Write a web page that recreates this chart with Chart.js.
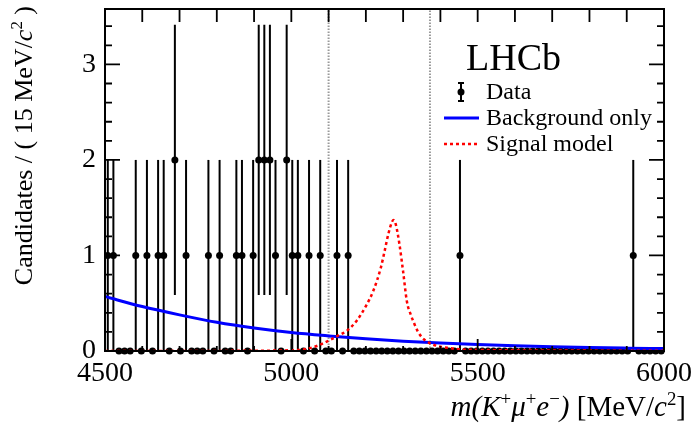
<!DOCTYPE html>
<html>
<head>
<meta charset="utf-8">
<script src="https://cdn.jsdelivr.net/npm/chart.js@4.4.1/dist/chart.umd.min.js"></script>
<style>
  body { margin: 0; background: #fff; }
  #wrap { width: 695px; height: 423px; }
</style>
</head>
<body>
<div id="wrap"><canvas id="chart" width="695" height="423"></canvas></div>
<script>
// binned data: 100 bins of 15 MeV from 4500 to 6000
const binLow = 4500;
const binWidth = 15;
const counts = [
    1, 1, 0, 0, 0, 1, 0, 1, 0, 1,
    1, 0, 2, 0, 1, 0, 0, 0, 1, 0,
    1, 0, 0, 1, 1, 0, 1, 2, 2, 2,
    1, 0, 2, 1, 1, 0, 1, 0, 1, 0,
    0, 1, 0, 1, 0, 0, 0, 0, 0, 0,
    0, 0, 0, 0, 0, 0, 0, 0, 0, 0,
    0, 0, 0, 1, 0, 0, 0, 0, 0, 0,
    0, 0, 0, 0, 0, 0, 0, 0, 0, 0,
    0, 0, 0, 0, 0, 0, 0, 0, 0, 0,
    0, 0, 0, 0, 1, 0, 0, 0, 0, 0
];

// background-only fit curve
const bkgMass  = [4500, 4600, 4700, 4800, 4900, 5000, 5100, 5200, 5300, 5400, 5500, 5600, 5700, 5800, 5900, 6000];
const bkgValue = [0.57, 0.465, 0.378, 0.30, 0.24, 0.193, 0.158, 0.128, 0.103, 0.083, 0.067, 0.054, 0.044, 0.036, 0.030, 0.025];

// signal model curve
const sigMass  = [4500, 4800, 4950, 5000, 5025, 5050, 5075, 5100, 5125, 5150, 5175, 5200, 5220, 5240, 5250, 5260, 5270, 5275, 5280, 5290, 5300, 5310, 5320, 5330, 5340, 5350, 5360, 5375, 5400, 5425, 5450, 5500, 5600, 5800, 6000];
const sigValue = [0.0, 0.001, 0.004, 0.008, 0.012, 0.03, 0.062, 0.108, 0.16, 0.215, 0.315, 0.47, 0.63, 0.87, 1.04, 1.22, 1.35, 1.37, 1.33, 1.12, 0.83, 0.52, 0.385, 0.285, 0.2, 0.145, 0.11, 0.075, 0.045, 0.03, 0.018, 0.012, 0.007, 0.004, 0.003];

// signal window edges
const windowEdges = [5100, 5372];

const xTickValues = [4500, 5000, 5500, 6000];
const yTickValues = [0, 1, 2, 3];
const xRange = [4500, 6000];
const yRange = [0, 3.58];

const serif = "'Liberation Serif', 'Times New Roman', serif";

const dataPoints = counts.map((n, i) => ({ x: binLow + binWidth * (i + 0.5), y: n }));

// text made of styled pieces (italic, superscript)
function richWidth(ctx, parts, size) {
    let w = 0;
    parts.forEach(p => {
        const s = p.sup ? size * 0.65 : size;
        ctx.font = (p.italic ? 'italic ' : '') + s + 'px ' + serif;
        w += ctx.measureText(p.t).width;
    });
    return w;
}
function drawRich(ctx, parts, x, y, size) {
    let cx = x;
    parts.forEach(p => {
        const s = p.sup ? size * 0.65 : size;
        ctx.font = (p.italic ? 'italic ' : '') + s + 'px ' + serif;
        ctx.fillText(p.t, cx, p.sup ? y - size * 0.38 : y);
        cx += ctx.measureText(p.t).width;
    });
}

const xTitle = [
    { t: 'm(K', italic: true }, { t: '+', sup: true }, { t: 'μ', italic: true }, { t: '+', sup: true },
    { t: 'e', italic: true }, { t: '−', sup: true }, { t: ')', italic: true }, { t: ' [MeV/' },
    { t: 'c', italic: true }, { t: '2', sup: true }, { t: ']' }
];
const yTitle = [
    { t: 'Candidates / ( 15 MeV/' }, { t: 'c', italic: true }, { t: '2', sup: true }, { t: ' )' }
];

const framePlugin = {
    id: 'frame',
    beforeDatasetDraw(chart, args) {
        if (args.index !== 3) return;
        // error bars for the data points
        const ctx = chart.ctx;
        const xs = chart.scales.x, ys = chart.scales.y;
        ctx.save();
        ctx.strokeStyle = '#000';
        ctx.lineWidth = 2;
        dataPoints.forEach(p => {
            if (p.y <= 0) return;
            const e = Math.sqrt(p.y);
            const px = xs.getPixelForValue(p.x);
            ctx.beginPath();
            ctx.moveTo(px, ys.getPixelForValue(Math.max(0, p.y - e)));
            ctx.lineTo(px, ys.getPixelForValue(p.y + e));
            ctx.stroke();
        });
        ctx.restore();
    },
    afterDraw(chart) {
        const ctx = chart.ctx;
        const a = chart.chartArea;
        const xs = chart.scales.x, ys = chart.scales.y;
        ctx.save();
        ctx.strokeStyle = '#000';
        ctx.lineWidth = 2;
        ctx.strokeRect(a.left, a.top, a.right - a.left, a.bottom - a.top);

        // x ticks
        ctx.lineWidth = 1.8;
        ctx.beginPath();
        for (let v = xRange[0]; v <= xRange[1]; v += 100) {
            const px = xs.getPixelForValue(v);
            const major = v % 500 === 0;
            ctx.moveTo(px, a.bottom);
            ctx.lineTo(px, a.bottom - (major ? 12 : 5));
            ctx.moveTo(px, a.top);
            ctx.lineTo(px, a.top + 13);
        }
        // y ticks
        for (let k = 0; k <= 17; k++) {
            const v = k * 0.2;
            const py = ys.getPixelForValue(v);
            const major = k % 5 === 0;
            const len = major ? 15 : 7;
            ctx.moveTo(a.left, py);
            ctx.lineTo(a.left + len, py);
            ctx.moveTo(a.right, py);
            ctx.lineTo(a.right - len, py);
        }
        ctx.stroke();

        // axis titles
        ctx.fillStyle = '#000';
        ctx.textBaseline = 'alphabetic';
        ctx.textAlign = 'left';
        const xs2 = 29;
        const xw = richWidth(ctx, xTitle, xs2);
        drawRich(ctx, xTitle, 686 - xw, 416, xs2);

        const ys2 = 26;
        const yw = richWidth(ctx, yTitle, ys2);
        ctx.translate(32, 6);
        ctx.rotate(-Math.PI / 2);
        drawRich(ctx, yTitle, -yw, 0, ys2);
        ctx.setTransform(1, 0, 0, 1, 0, 0);

        // LHCb label and legend
        ctx.font = '38px ' + serif;
        ctx.fillText('LHCb', 466, 70);

        const rows = [
            { label: 'Data', y: 92 },
            { label: 'Background only', y: 118 },
            { label: 'Signal model', y: 144 }
        ];
        ctx.font = '24px ' + serif;
        rows.forEach(r => ctx.fillText(r.label, 486, r.y + 7));

        // legend symbols
        ctx.strokeStyle = '#000';
        ctx.lineWidth = 2;
        ctx.beginPath();
        ctx.moveTo(461, 83); ctx.lineTo(461, 101);
        ctx.moveTo(458, 83); ctx.lineTo(464, 83);
        ctx.moveTo(458, 101); ctx.lineTo(464, 101);
        ctx.stroke();
        ctx.beginPath();
        ctx.arc(461, 92, 3.5, 0, Math.PI * 2);
        ctx.fill();

        ctx.strokeStyle = '#0000ff';
        ctx.lineWidth = 3;
        ctx.beginPath();
        ctx.moveTo(444, 118); ctx.lineTo(479, 118);
        ctx.stroke();

        ctx.strokeStyle = '#ff0000';
        ctx.lineWidth = 2.5;
        ctx.setLineDash([3, 3]);
        ctx.beginPath();
        ctx.moveTo(444, 144); ctx.lineTo(479, 144);
        ctx.stroke();
        ctx.restore();
    }
};

const ctx = document.getElementById('chart');
new Chart(ctx, {
    type: 'scatter',
    data: {
        datasets: [
            {
                label: 'Signal model',
                data: sigMass.map((m, i) => ({ x: m, y: sigValue[i] })),
                showLine: true,
                borderColor: '#ff0000',
                borderWidth: 2.5,
                borderDash: [3, 3],
                pointRadius: 0,
                cubicInterpolationMode: 'monotone',
                order: 1
            },
            {
                label: 'Background only',
                data: bkgMass.map((m, i) => ({ x: m, y: bkgValue[i] })),
                showLine: true,
                borderColor: '#0000ff',
                borderWidth: 3,
                pointRadius: 0,
                cubicInterpolationMode: 'monotone',
                order: 2
            },
            {
                label: 'window',
                data: [
                    { x: windowEdges[0], y: yRange[0] }, { x: windowEdges[0], y: yRange[1] }, { x: NaN, y: NaN },
                    { x: windowEdges[1], y: yRange[0] }, { x: windowEdges[1], y: yRange[1] }
                ],
                showLine: true,
                spanGaps: false,
                borderColor: '#9a9a9a',
                borderWidth: 2,
                borderDash: [1.5, 1.5],
                pointRadius: 0,
                order: 5
            },
            {
                label: 'Data',
                data: dataPoints,
                backgroundColor: '#000',
                borderColor: '#000',
                pointRadius: 3.5,
                borderWidth: 0,
                clip: 6,
                order: 3
            }
        ]
    },
    options: {
        responsive: false,
        animation: false,
        layout: { padding: { top: 9, right: 31, left: 0, bottom: 0 } },
        plugins: { legend: { display: false }, tooltip: { enabled: false } },
        scales: {
            x: {
                type: 'linear',
                min: xRange[0],
                max: xRange[1],
                grid: { display: false, drawTicks: false },
                border: { display: false },
                afterBuildTicks: s => { s.ticks = xTickValues.map(v => ({ value: v })); },
                afterFit: s => { s.height = 72; s.paddingLeft = 0; s.paddingRight = 0; },
                ticks: {
                    autoSkip: false,
                    maxRotation: 0,
                    padding: 6,
                    color: '#000',
                    font: { family: serif, size: 28 },
                    callback: v => String(v)
                }
            },
            y: {
                type: 'linear',
                min: yRange[0],
                max: yRange[1],
                grid: { display: false, drawTicks: false },
                border: { display: false },
                afterBuildTicks: s => { s.ticks = yTickValues.map(v => ({ value: v })); },
                afterFit: s => { s.width = 105; s.paddingTop = 0; s.paddingBottom = 0; },
                ticks: {
                    padding: 9,
                    color: '#000',
                    font: { family: serif, size: 28 },
                    callback: v => String(v)
                }
            }
        }
    },
    plugins: [framePlugin]
});
</script>
</body>
</html>
